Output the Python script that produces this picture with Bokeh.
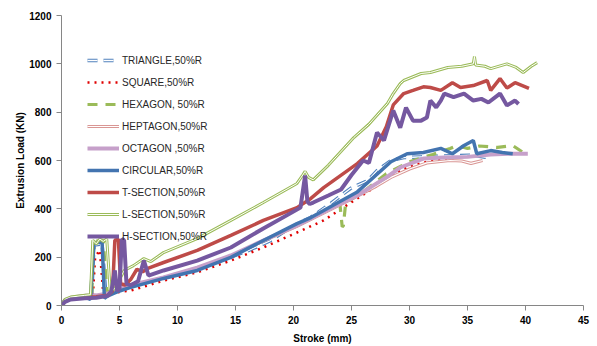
from bokeh.plotting import figure
from bokeh.models import Legend, LegendItem, Range1d, FixedTicker
from bokeh.embed import file_html
from bokeh.resources import INLINE

# ---------------- data (stroke mm, load kN) ----------------
tri_s = [0, 0.3, 0.8, 2.0, 2.6, 2.8, 3.5, 3.8, 4.2, 5, 6, 8, 10, 12, 14, 16, 18, 20, 21.5, 23.2, 24.9, 26.4, 27.2, 28.4, 29.5, 31, 32.5, 34, 35.5, 36.7]
tri_l = [0, 20, 30, 38, 40, 250, 255, 60, 55, 68, 82, 105, 130, 157, 190, 225, 268, 330, 365, 422, 484, 517, 558, 600, 612, 615, 618, 620, 622, 612]

sq_s = [0, 0.3, 0.8, 2.0, 2.7, 2.9, 3.3, 3.6, 4, 6, 8.8, 11.7, 14.6, 17.4, 20.3, 22.6, 25.5, 27.5, 28.6, 30, 31.5, 33, 34.5]
sq_l = [0, 18, 28, 35, 38, 200, 230, 50, 50, 62, 103, 137, 186, 240, 302, 352, 443, 505, 546, 575, 595, 608, 612]

hex_s = [0, 0.3, 0.8, 2, 2.6, 2.8, 3.6, 3.9, 4.3, 6, 8.8, 11.7, 14.6, 17.4, 20.3, 22.5, 24.0, 24.2, 24.3, 24.5, 26, 28, 30, 32, 33.5, 34.1, 35, 36, 37.6, 38.9, 39.8]
hex_l = [0, 22, 32, 40, 42, 265, 270, 60, 58, 80, 115, 155, 205, 268, 330, 385, 420, 325, 330, 425, 470, 545, 595, 625, 650, 662, 650, 660, 654, 662, 633]

hep_s = [0, 0.3, 0.8, 2, 2.6, 3, 4, 6, 8.8, 11.7, 14.6, 17.4, 20.3, 22.5, 25, 27, 28.4, 30, 31.5, 33.5, 34.5, 35.3, 36.3]
hep_l = [0, 20, 30, 38, 40, 40, 48, 80, 114, 155, 205, 268, 328, 380, 440, 490, 530, 565, 590, 600, 598, 588, 600]

oct_s = [0, 0.3, 0.8, 2, 3, 4, 6, 8.8, 11.7, 14.6, 17.4, 20.3, 22.5, 25.5, 28, 29.2, 31.2, 33, 35, 37, 38.5, 40.2]
oct_l = [0, 22, 32, 40, 42, 50, 85, 116, 157, 207, 269, 331, 385, 455, 530, 571, 608, 612, 615, 625, 628, 628]

cir_s = [0, 0.3, 0.8, 2.0, 2.5, 2.8, 3.5, 3.7, 4, 5, 5.9, 8.8, 11.7, 14.6, 17.4, 20.3, 21.5, 22.6, 25.5, 28.4, 29.8, 31.2, 32.7, 33.7, 34.7, 35.5, 35.8, 37, 38, 38.9]
cir_l = [0, 22, 30, 35, 25, 260, 262, 30, 40, 60, 74, 112, 145, 199, 269, 339, 364, 393, 470, 595, 628, 633, 650, 628, 662, 683, 628, 641, 633, 628]

t_s = [0, 0.3, 0.8, 2, 3, 4, 4.4, 4.6, 4.9, 5.1, 5.5, 6.0, 6.5, 7.0, 7.5, 8.8, 11.7, 14.6, 17.4, 20.3, 21.5, 22.6, 25.5, 27.2, 28.0, 28.6, 29.5, 30.3, 31.2, 31.8, 32.7, 33.7, 34.4, 35.5, 36.7, 37.0, 37.8, 38.4, 39.1, 40.3]
t_l = [0, 20, 28, 33, 36, 42, 60, 270, 275, 90, 85, 110, 150, 140, 155, 178, 228, 290, 352, 405, 443, 488, 587, 660, 740, 830, 877, 890, 905, 902, 890, 922, 902, 910, 931, 890, 939, 900, 922, 898]

l_s = [0, 0.3, 0.8, 2, 2.5, 2.7, 3.0, 3.3, 3.6, 3.9, 4.2, 4.6, 5.4, 6.2, 7.1, 7.7, 8.8, 11.7, 14.6, 17.4, 20.3, 20.8, 21.0, 21.3, 21.7, 23, 25.2, 26.5, 28.1, 28.6, 29.2, 29.5, 31, 31.8, 33.3, 34.5, 35.5, 35.6, 35.7, 36.5, 37, 38.4, 39.2, 39.8, 40.5, 41]
l_l = [0, 25, 35, 42, 45, 270, 255, 275, 265, 275, 60, 70, 145, 165, 194, 182, 219, 277, 352, 426, 505, 540, 555, 530, 520, 580, 695, 750, 836, 877, 918, 931, 960, 964, 985, 990, 1000, 1030, 995, 990, 980, 1000, 985, 964, 990, 1005]

h_s = [0, 0.3, 0.8, 2, 3, 4, 4.3, 4.6, 4.8, 5.0, 5.2, 5.4, 5.6, 6, 6.6, 7.1, 7.5, 8.8, 11.7, 14.6, 17.4, 20.6, 21.0, 21.2, 21.4, 21.7, 23, 24.1, 25, 26, 26.5, 27.2, 27.8, 28.6, 29.2, 29.7, 30.3, 31, 31.5, 31.8, 32.3, 32.7, 33, 33.8, 34.7, 35.5, 36.2, 36.8, 37.8, 38.4, 39.1, 39.4]
h_l = [0, 15, 25, 30, 32, 40, 60, 145, 60, 70, 275, 270, 90, 85, 100, 186, 124, 145, 186, 240, 319, 405, 538, 430, 420, 426, 455, 480, 540, 600, 590, 716, 683, 807, 736, 819, 765, 765, 778, 848, 820, 848, 877, 862, 877, 848, 855, 840, 877, 828, 848, 834]

labels = ["TRIANGLE,50%R", "SQUARE,50%R", "HEXAGON, 50%R", "HEPTAGON,50%R", "OCTAGON ,50%R",
          "CIRCULAR,50%R", "T-SECTION,50%R", "L-SECTION,50%R", "H-SECTION,50%R"]
x_ticks = [0, 5, 10, 15, 20, 25, 30, 35, 40, 45]
y_ticks = [0, 200, 400, 600, 800, 1000, 1200]

# ---------------- figure ----------------
p = figure(width=597, height=346, output_backend="svg", toolbar_location=None,
           x_range=Range1d(0, 45), y_range=Range1d(0, 1200),
           min_border_left=61, min_border_right=14, min_border_top=15, min_border_bottom=41)
p.outline_line_color = None
p.grid.visible = False
p.background_fill_color = "white"
p.border_fill_color = "white"

for ax in (p.xaxis[0], p.yaxis[0]):
    ax.axis_line_color = "#868686"
    ax.major_tick_line_color = "#868686"
    ax.major_tick_out = 5
    ax.major_tick_in = 0
    ax.minor_tick_line_color = None
    ax.major_label_text_font = "Liberation Sans"
    ax.major_label_text_font_style = "bold"
    ax.major_label_text_font_size = "10px"
    ax.major_label_text_color = "#000000"
    ax.axis_label_text_font = "Liberation Sans"
    ax.axis_label_text_font_style = "bold"
    ax.axis_label_text_font_size = "10px"
    ax.axis_label_text_color = "#000000"
p.xaxis.ticker = FixedTicker(ticks=x_ticks)
p.yaxis.ticker = FixedTicker(ticks=y_ticks)
p.xaxis.axis_label = "Stroke (mm)"
p.yaxis.axis_label = "Extrusion Load (KN)"
p.xaxis.axis_label_standoff = 6
p.yaxis.axis_label_standoff = 0

items = []
# TRIANGLE hollow dashed blue
r1 = p.line(tri_s, tri_l, line_color="#4F81BD", line_width=3.5, line_dash="10 6")
r1b = p.line(tri_s, tri_l, line_color="white", line_width=1.3, line_dash="10 6")
items.append(LegendItem(label=labels[0], renderers=[r1, r1b]))
# SQUARE dotted red
r2 = p.line(sq_s, sq_l, line_color="#E00000", line_width=2.5, line_dash="2 5")
items.append(LegendItem(label=labels[1], renderers=[r2]))
# HEXAGON dashed green
r3 = p.line(hex_s, hex_l, line_color="#9BBB59", line_width=3.2, line_dash="10 8")
items.append(LegendItem(label=labels[2], renderers=[r3]))
# HEPTAGON hollow pink
r4 = p.line(hep_s, hep_l, line_color="#D99694", line_width=3.2)
r4b = p.line(hep_s, hep_l, line_color="white", line_width=1.2)
items.append(LegendItem(label=labels[3], renderers=[r4, r4b]))
# OCTAGON light purple
r5 = p.line(oct_s, oct_l, line_color="#C6A0CA", line_width=4)
items.append(LegendItem(label=labels[4], renderers=[r5]))
# CIRCULAR blue
r6 = p.line(cir_s, cir_l, line_color="#4374B0", line_width=3.5)
items.append(LegendItem(label=labels[5], renderers=[r6]))
# T-SECTION red
r7 = p.line(t_s, t_l, line_color="#BE4B48", line_width=3.5)
items.append(LegendItem(label=labels[6], renderers=[r7]))
# L-SECTION hollow green
r8 = p.line(l_s, l_l, line_color="#9BBB59", line_width=3)
r8b = p.line(l_s, l_l, line_color="white", line_width=1)
items.append(LegendItem(label=labels[7], renderers=[r8, r8b]))
# H-SECTION purple
r9 = p.line(h_s, h_l, line_color="#7558A0", line_width=4)
items.append(LegendItem(label=labels[8], renderers=[r9]))

legend = Legend(items=items, location=(26, 59))
legend.border_line_color = None
legend.background_fill_alpha = 0
legend.padding = 0
legend.margin = 0
legend.spacing = 2
legend.glyph_width = 32
legend.glyph_height = 20
legend.label_height = 20
legend.label_standoff = 3
legend.label_text_font = "Liberation Sans"
legend.label_text_font_size = "10px"
legend.label_text_color = "#262626"
p.add_layout(legend, "center")

open("out.html", "w").write(file_html(p, INLINE))
